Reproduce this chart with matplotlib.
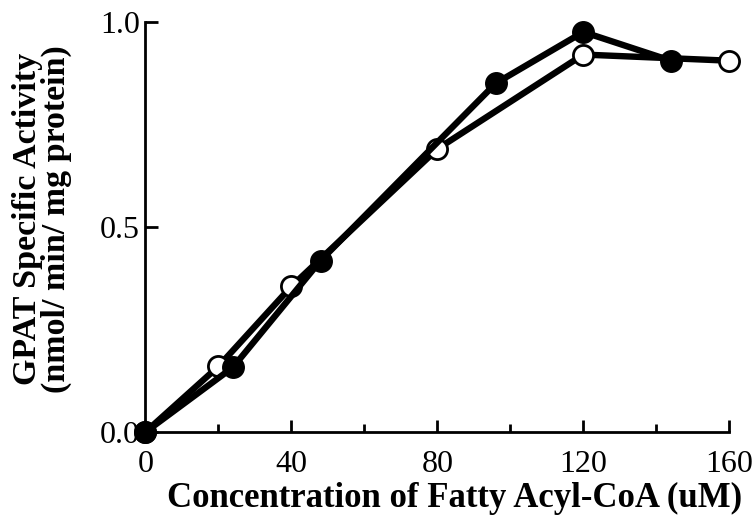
import matplotlib
matplotlib.use("Agg")
import matplotlib.pyplot as plt
from matplotlib.ticker import FixedLocator

# Fatty acyl-CoA concentration (uM) and GPAT specific activity
open_conc = [0, 20, 40, 80, 120, 160]
open_activity = [0.0, 0.16, 0.355, 0.69, 0.92, 0.905]

filled_conc = [0, 24, 48, 96, 120, 144]
filled_activity = [0.0, 0.158, 0.418, 0.85, 0.975, 0.905]

x_ticks = [0, 40, 80, 120, 160]
x_minor = [20, 60, 100, 140]
y_ticks = [0.0, 0.5, 1.0]
y_tick_labels = ["0.0", "0.5", "1.0"]

plt.rcParams["font.family"] = ["Liberation Serif", "DejaVu Serif"]

fig = plt.figure(figsize=(7.55, 5.21), dpi=100)
ax = fig.add_axes([0.1927, 0.1708, 0.7733, 0.7875])

ax.plot(open_conc, open_activity, color="black", lw=4.6, marker="o",
        markersize=14.5, markerfacecolor="white", markeredgecolor="black",
        markeredgewidth=2.0, clip_on=False, zorder=3)
ax.plot(filled_conc, filled_activity, color="black", lw=4.6, marker="o",
        markersize=15.5, markerfacecolor="black", markeredgecolor="black",
        clip_on=False, zorder=4)

ax.set_xlim(0, 160)
ax.set_ylim(0, 1.0)

for side in ("top", "right"):
    ax.spines[side].set_visible(False)
for side in ("left", "bottom"):
    ax.spines[side].set_linewidth(2.0)

ax.xaxis.set_major_locator(FixedLocator(x_ticks))
ax.xaxis.set_minor_locator(FixedLocator(x_minor))
ax.set_yticks(y_ticks)
ax.set_yticklabels(y_tick_labels)

ax.tick_params(axis="x", which="major", direction="in", length=9, width=2.0,
               labelsize=23, pad=13)
ax.tick_params(axis="x", which="minor", direction="in", length=6, width=2.0)
ax.tick_params(axis="y", which="major", direction="in", length=9, width=2.0,
               labelsize=23, pad=4)

ax.set_xlabel("Concentration of Fatty Acyl-CoA (uM)", fontsize=25,
              fontweight="bold")
ax.xaxis.set_label_coords(0.53, -0.122)
ax.set_ylabel("GPAT Specific Activity\n(nmol/ min/ mg protein)", fontsize=24.5,
              fontweight="bold", linespacing=0.92)
ax.yaxis.set_label_coords(-0.126, 0.52)

fig.savefig("out.png", dpi=100)
